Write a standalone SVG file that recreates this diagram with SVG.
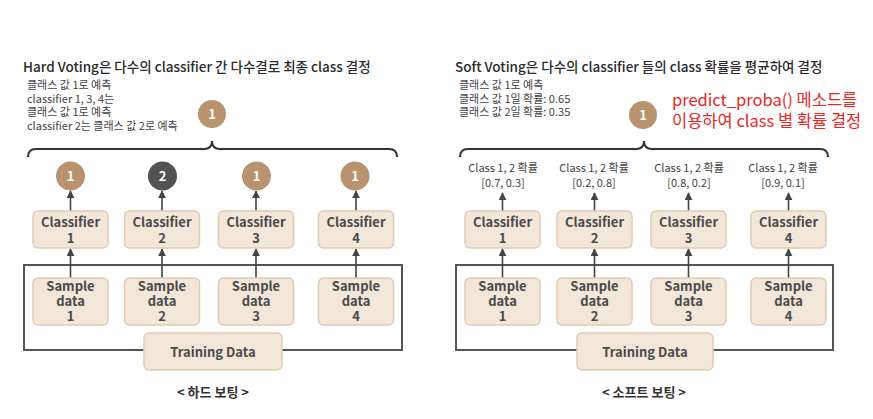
<svg xmlns="http://www.w3.org/2000/svg" width="873" height="419" viewBox="0 0 873 419">
<defs>
<style>
text{font-family:"Noto Sans CJK KR","Noto Sans",sans-serif;fill:#3a3a3a}
.title{font-size:13.5px;font-weight:500;fill:#2a2a2a}
.small{font-size:11px;fill:#444}
.red{font-size:16.5px;fill:#e8261f}
.box{fill:#f3e7da;stroke:#e2cbb2;stroke-width:1.5}
.bt{font-size:13px;font-weight:700;text-anchor:middle;fill:#4a4a4a}
.ct{font-size:13px;font-weight:700;text-anchor:middle;fill:#ffffff}
.pt{font-size:11px;text-anchor:middle;fill:#444}
.cap{font-size:13px;font-weight:700;text-anchor:middle;fill:#333}
.tan{fill:#b9936d}
.dark{fill:#525252}
.ln{stroke:#444;stroke-width:1.6;fill:none}
.frame{stroke:#555;stroke-width:2;fill:none}
.brace{stroke:#333;stroke-width:2;fill:none}
</style>
<marker id="ah" viewBox="0 0 10 10" refX="9" refY="5" markerWidth="5" markerHeight="5" orient="auto" markerUnits="strokeWidth">
<path d="M0,0 L10,5 L0,10 Z" fill="#444"/>
</marker>
</defs>
<rect width="873" height="419" fill="#ffffff"/>

<!-- Left panel texts -->
<g id="hard-title">
<text class="title" x="23" y="72">Hard Voting은 다수의 classifier 간 다수결로 최종 class 결정</text>
<text class="small" x="27" y="89">클래스 값 1로 예측</text>
<text class="small" x="27" y="103">classifier 1, 3, 4는</text>
<text class="small" x="27" y="116">클래스 값 1로 예측</text>
<text class="small" x="27" y="130">classifier 2는 클래스 값 2로 예측</text>
</g>
<g id="hard-result"><circle class="tan" cx="212" cy="114" r="14"/><text class="ct" x="212" y="119">1</text></g>

<!-- Right panel texts -->
<g id="soft-title">
<text class="title" x="455" y="72">Soft Voting은 다수의 classifier 들의 class 확률을 평균하여 결정</text>
<text class="small" x="459" y="89">클래스 값 1로 예측</text>
<text class="small" x="459" y="103">클래스 값 1일 확률: 0.65</text>
<text class="small" x="459" y="116">클래스 값 2일 확률: 0.35</text>
<text class="red" x="672" y="106">predict_proba() 메소드를</text>
<text class="red" x="672" y="127">이용하여 class 별 확률 결정</text>
</g>
<g id="soft-result"><circle class="tan" cx="643" cy="115" r="14"/><text class="ct" x="643" y="120">1</text></g>

<!-- Connectors -->
<g id="connectors">
<path class="brace" d="M28,157 Q28,149 36,149 L204,149 Q212,149 212,141 Q212,149 220,149 L389,149 Q397,149 397,157"/>
<path class="brace" d="M460,157 Q460,149 468,149 L636,149 Q644,149 644,141 Q644,149 652,149 L820,149 Q828,149 828,157"/>
<rect class="frame" x="24" y="265" width="378" height="85"/>
<rect class="frame" x="456" y="265" width="377" height="85"/>
<line class="ln" x1="70.5" y1="211" x2="70.5" y2="191" marker-end="url(#ah)"/>
<line class="ln" x1="162" y1="211" x2="162" y2="191" marker-end="url(#ah)"/>
<line class="ln" x1="256" y1="211" x2="256" y2="191" marker-end="url(#ah)"/>
<line class="ln" x1="356" y1="211" x2="356" y2="191" marker-end="url(#ah)"/>
<line class="ln" x1="70.5" y1="278" x2="70.5" y2="249" marker-end="url(#ah)"/>
<line class="ln" x1="162" y1="278" x2="162" y2="249" marker-end="url(#ah)"/>
<line class="ln" x1="256" y1="278" x2="256" y2="249" marker-end="url(#ah)"/>
<line class="ln" x1="356" y1="278" x2="356" y2="249" marker-end="url(#ah)"/>
<line class="ln" x1="502.5" y1="211" x2="502.5" y2="193" marker-end="url(#ah)"/>
<line class="ln" x1="594.5" y1="211" x2="594.5" y2="193" marker-end="url(#ah)"/>
<line class="ln" x1="688.5" y1="211" x2="688.5" y2="193" marker-end="url(#ah)"/>
<line class="ln" x1="788.5" y1="211" x2="788.5" y2="193" marker-end="url(#ah)"/>
<line class="ln" x1="502.5" y1="278" x2="502.5" y2="249" marker-end="url(#ah)"/>
<line class="ln" x1="594.5" y1="278" x2="594.5" y2="249" marker-end="url(#ah)"/>
<line class="ln" x1="688.5" y1="278" x2="688.5" y2="249" marker-end="url(#ah)"/>
<line class="ln" x1="788.5" y1="278" x2="788.5" y2="249" marker-end="url(#ah)"/>
</g>

<!-- Left votes -->
<g id="hard-vote-1"><circle class="tan" cx="70.5" cy="176" r="14.5"/><text class="ct" x="70.5" y="181">1</text></g>
<g id="hard-vote-2"><circle class="dark" cx="162.5" cy="176" r="14.5"/><text class="ct" x="162.5" y="181">2</text></g>
<g id="hard-vote-3"><circle class="tan" cx="256.5" cy="176" r="14.5"/><text class="ct" x="256.5" y="181">1</text></g>
<g id="hard-vote-4"><circle class="tan" cx="355" cy="176" r="14.5"/><text class="ct" x="355" y="181">1</text></g>

<!-- Left classifiers -->
<g id="hard-clf-1"><rect class="box" x="33" y="211" width="75" height="37" rx="5"/><text class="bt" x="70.5" y="227">Classifier</text><text class="bt" x="70.5" y="243">1</text></g>
<g id="hard-clf-2"><rect class="box" x="124.5" y="211" width="75" height="37" rx="5"/><text class="bt" x="162" y="227">Classifier</text><text class="bt" x="162" y="243">2</text></g>
<g id="hard-clf-3"><rect class="box" x="218.5" y="211" width="75" height="37" rx="5"/><text class="bt" x="256" y="227">Classifier</text><text class="bt" x="256" y="243">3</text></g>
<g id="hard-clf-4"><rect class="box" x="318.5" y="211" width="75" height="37" rx="5"/><text class="bt" x="356" y="227">Classifier</text><text class="bt" x="356" y="243">4</text></g>

<!-- Left samples -->
<g id="hard-sample-1"><rect class="box" x="33" y="278" width="75" height="47" rx="5"/><text class="bt" x="70.5" y="291">Sample</text><text class="bt" x="70.5" y="306">data</text><text class="bt" x="70.5" y="321">1</text></g>
<g id="hard-sample-2"><rect class="box" x="124.5" y="278" width="75" height="47" rx="5"/><text class="bt" x="162" y="291">Sample</text><text class="bt" x="162" y="306">data</text><text class="bt" x="162" y="321">2</text></g>
<g id="hard-sample-3"><rect class="box" x="218.5" y="278" width="75" height="47" rx="5"/><text class="bt" x="256" y="291">Sample</text><text class="bt" x="256" y="306">data</text><text class="bt" x="256" y="321">3</text></g>
<g id="hard-sample-4"><rect class="box" x="318.5" y="278" width="75" height="47" rx="5"/><text class="bt" x="356" y="291">Sample</text><text class="bt" x="356" y="306">data</text><text class="bt" x="356" y="321">4</text></g>

<g id="hard-training"><rect class="box" x="144" y="333" width="138" height="37" rx="5"/><text class="bt" x="213" y="357">Training Data</text></g>
<g id="hard-caption"><text class="cap" x="213" y="397">&lt; 하드 보팅 &gt;</text></g>

<!-- Right probabilities -->
<g id="soft-prob-1"><text class="pt" x="503" y="172">Class 1, 2 확률</text><text class="pt" x="503" y="187">[0.7, 0.3]</text></g>
<g id="soft-prob-2"><text class="pt" x="594" y="172">Class 1, 2 확률</text><text class="pt" x="594" y="187">[0.2, 0.8]</text></g>
<g id="soft-prob-3"><text class="pt" x="689" y="172">Class 1, 2 확률</text><text class="pt" x="689" y="187">[0.8, 0.2]</text></g>
<g id="soft-prob-4"><text class="pt" x="783" y="172">Class 1, 2 확률</text><text class="pt" x="783" y="187">[0.9, 0.1]</text></g>

<!-- Right classifiers -->
<g id="soft-clf-1"><rect class="box" x="465" y="211" width="75" height="37" rx="5"/><text class="bt" x="502.5" y="227">Classifier</text><text class="bt" x="502.5" y="243">1</text></g>
<g id="soft-clf-2"><rect class="box" x="557" y="211" width="75" height="37" rx="5"/><text class="bt" x="594.5" y="227">Classifier</text><text class="bt" x="594.5" y="243">2</text></g>
<g id="soft-clf-3"><rect class="box" x="651" y="211" width="75" height="37" rx="5"/><text class="bt" x="688.5" y="227">Classifier</text><text class="bt" x="688.5" y="243">3</text></g>
<g id="soft-clf-4"><rect class="box" x="751" y="211" width="75" height="37" rx="5"/><text class="bt" x="788.5" y="227">Classifier</text><text class="bt" x="788.5" y="243">4</text></g>

<!-- Right samples -->
<g id="soft-sample-1"><rect class="box" x="465" y="278" width="75" height="47" rx="5"/><text class="bt" x="502.5" y="291">Sample</text><text class="bt" x="502.5" y="306">data</text><text class="bt" x="502.5" y="321">1</text></g>
<g id="soft-sample-2"><rect class="box" x="557" y="278" width="75" height="47" rx="5"/><text class="bt" x="594.5" y="291">Sample</text><text class="bt" x="594.5" y="306">data</text><text class="bt" x="594.5" y="321">2</text></g>
<g id="soft-sample-3"><rect class="box" x="651" y="278" width="75" height="47" rx="5"/><text class="bt" x="688.5" y="291">Sample</text><text class="bt" x="688.5" y="306">data</text><text class="bt" x="688.5" y="321">3</text></g>
<g id="soft-sample-4"><rect class="box" x="751" y="278" width="75" height="47" rx="5"/><text class="bt" x="788.5" y="291">Sample</text><text class="bt" x="788.5" y="306">data</text><text class="bt" x="788.5" y="321">4</text></g>

<g id="soft-training"><rect class="box" x="577" y="333" width="136" height="37" rx="5"/><text class="bt" x="645" y="357">Training Data</text></g>
<g id="soft-caption"><text class="cap" x="644" y="397">&lt; 소프트 보팅 &gt;</text></g>
</svg>
